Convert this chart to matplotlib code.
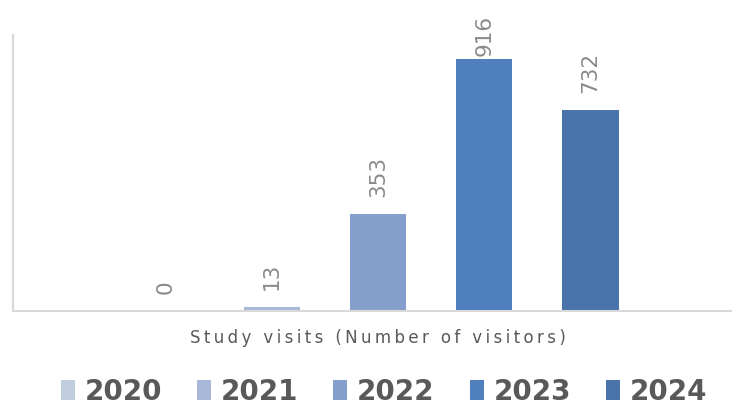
import matplotlib
matplotlib.use("Agg")
import matplotlib.pyplot as plt
from matplotlib.patches import Patch

# Data
category = "Study visits (Number of visitors)"
years = ["2020", "2021", "2022", "2023", "2024"]
visitors = [0, 13, 353, 916, 732]
colors = ["#C3CDE0", "#A8B8D8", "#849FCB", "#4F80BD", "#4874AB"]

W, H, DPI = 732, 405, 100
fig = plt.figure(figsize=(W / DPI, H / DPI), dpi=DPI)
ax = fig.add_axes([13 / W, (H - 311) / H, (W - 13) / W, (311 - 35) / H])

bar_w = 0.53
n = len(years)
offsets = [i - (n - 1) / 2 for i in range(n)]
for off, v, c in zip(offsets, visitors, colors):
    ax.bar(off, v, width=bar_w, color=c, zorder=2)

ax.set_xlim(-3.435, 3.332)
ax.set_ylim(0, 1003)

# Value labels above each bar, kept inside the plot area
pad = 62
label_top = 925
for off, v in zip(offsets, visitors):
    ax.text(off, min(v + pad, label_top), f"{v}", rotation=90, ha="center",
            va="bottom", fontsize=15.5, color="#8A8A8A",
            family=["DejaVu Sans"])

for s in ["top", "right"]:
    ax.spines[s].set_visible(False)
ax.spines["left"].set_color("#D9D9D9")
ax.spines["bottom"].set_color("#D9D9D9")
ax.spines["left"].set_linewidth(1.5)
ax.spines["bottom"].set_linewidth(1.5)
ax.set_xticks([])
ax.set_yticks([])

spaced = "\u2009".join(category)
fig.text(378 / W, 1 - 338 / H, spaced, ha="center", va="center", fontsize=12,
         color="#595959", family=["DejaVu Sans"])

handles = [Patch(facecolor=c, edgecolor="none") for c in colors]
leg = fig.legend(handles, years, loc="center", bbox_to_anchor=(384 / W, 1 - 391.5 / H),
                 ncol=n, frameon=False, handlelength=0.5, handleheight=0.7,
                 handletextpad=0.35, columnspacing=1.27,
                 prop={"family": "DejaVu Sans", "weight": "bold", "size": 20},
                 borderpad=0.1)
for t in leg.get_texts():
    t.set_color("#595959")

fig.savefig("out.png", dpi=DPI, facecolor="white")
